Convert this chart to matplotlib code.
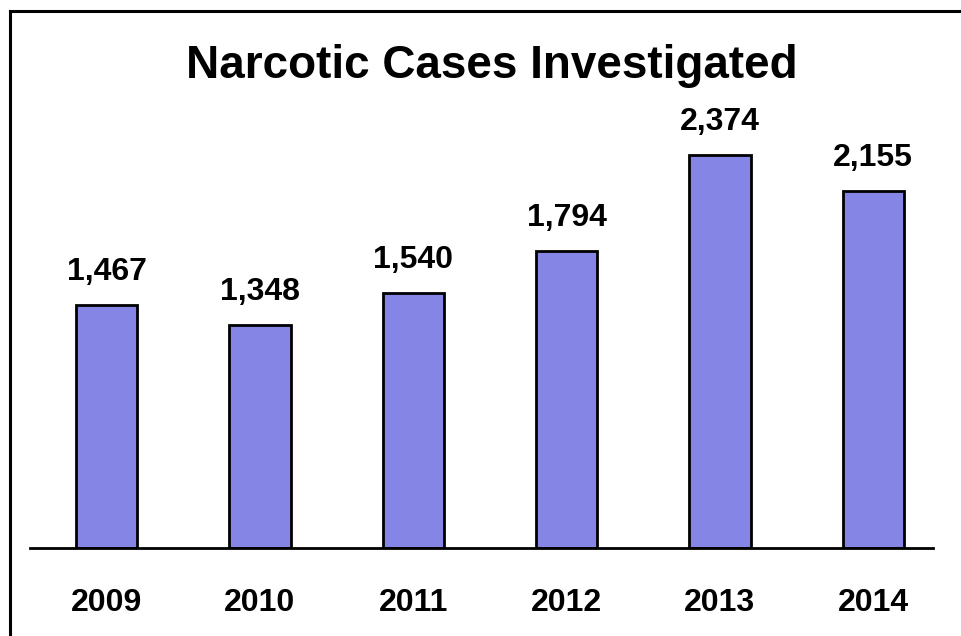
import matplotlib.pyplot as plt
from matplotlib.lines import Line2D

years = ["2009", "2010", "2011", "2012", "2013", "2014"]
cases = [1467, 1348, 1540, 1794, 2374, 2155]
labels = ["1,467", "1,348", "1,540", "1,794", "2,374", "2,155"]

plt.rcParams["font.family"] = ["Liberation Sans", "DejaVu Sans"]

W, H = 961, 636
fig = plt.figure(figsize=(W / 100, H / 100), dpi=100)

# axes placed in pixel terms of the reference
ax = fig.add_axes([30 / W, (H - 548) / H, 903 / W, 548 / H])

x = list(range(len(years)))
ax.bar(x, cases, width=0.4, color="#8585E6", edgecolor="black", linewidth=2)

for xi, v, lab in zip(x, cases, labels):
    ax.annotate(lab, (xi, v), xytext=(0, 13), textcoords="offset points",
                ha="center", va="bottom", fontsize=23, fontweight="bold")

ax.set_xlim(-0.5, 5.39)
ax.set_ylim(0, 548 / 0.1655)
ax.set_xticks(x)
ax.set_xticklabels(years, fontsize=23, fontweight="bold")
ax.tick_params(axis="x", length=0, pad=29)
ax.set_yticks([])
for s in ["top", "right", "left"]:
    ax.spines[s].set_visible(False)
ax.spines["bottom"].set_linewidth(2)

fig.text(492 / W, 1 - 66 / H, "Narcotic Cases Investigated", ha="center", va="center",
         fontsize=33, fontweight="bold")

# frame lines (left and top)
fig.add_artist(Line2D([9.5 / W, 9.5 / W], [0, 1 - 11 / H], color="black", linewidth=2.2))
fig.add_artist(Line2D([9.5 / W, 1], [1 - 11 / H, 1 - 11 / H], color="black", linewidth=2.2))

fig.savefig("out.png", dpi=100)
